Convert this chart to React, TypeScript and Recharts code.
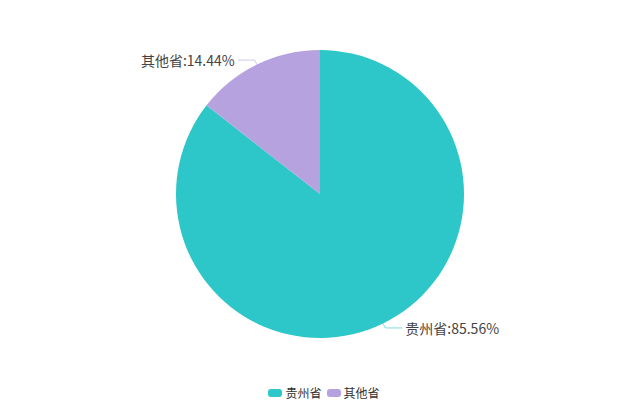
import React from "react";
import { PieChart, Pie, Cell, Legend } from "recharts";

const names = ["贵州省", "其他省"];
const values = [85.56, 14.44];
const colors = ["#2ec7c9", "#b6a2de"];

const data = names.map((name, i) => ({ name, value: values[i] }));

const RAD = Math.PI / 180;

const renderLabel = (props: any) => {
  const { cx, cy, midAngle, outerRadius, index } = props;
  const cos = Math.cos(-midAngle * RAD);
  const sin = Math.sin(-midAngle * RAD);
  const sx = cx + outerRadius * cos;
  const sy = cy + outerRadius * sin;
  const mx = cx + (outerRadius + 5) * cos;
  const my = cy + (outerRadius + 5) * sin;
  const dir = cos >= 0 ? 1 : -1;
  const ex = mx + dir * 17;
  const ey = my;
  const d = data[index];
  return (
    <g>
      <path
        d={`M${sx},${sy} L${mx},${my} L${ex},${ey}`}
        stroke={colors[index]}
        strokeOpacity={0.6}
        fill="none"
        strokeWidth={1}
      />
      <text
        x={ex + dir * 3}
        y={ey}
        textAnchor={dir > 0 ? "start" : "end"}
        dominantBaseline="central"
        fill="#444"
        fontSize={14}
        fontFamily="'Noto Sans CJK SC', 'Noto Sans', sans-serif"
      >
        {`${d.name}:${d.value.toFixed(2)}%`}
      </text>
    </g>
  );
};

const renderLegend = () => (
  <div
    style={{
      display: "flex",
      justifyContent: "center",
      alignItems: "center",
      fontFamily: "'Noto Sans CJK SC', 'Noto Sans', sans-serif",
      fontSize: 12,
      color: "#333",
      paddingLeft: 8,
    }}
  >
    {data.map((d, i) => (
      <div key={d.name} style={{ display: "flex", alignItems: "center", marginRight: i === 0 ? 5 : 0 }}>
        <span
          style={{
            display: "inline-block",
            width: 14,
            height: 8,
            borderRadius: 3,
            background: colors[i],
            marginRight: 3,
          }}
        />
        <span>{d.name}</span>
      </div>
    ))}
  </div>
);

export default function App() {
  return (
    <div style={{ position: "absolute", left: 0, top: 0, width: 640, height: 408, background: "#fff" }}>
      <PieChart width={640} height={408} margin={{ top: 0, right: 0, bottom: 0, left: 0 }}>
        <Pie
          data={data}
          dataKey="value"
          nameKey="name"
          cx={320}
          cy={194}
          outerRadius={144}
          startAngle={90}
          endAngle={-270}
          stroke="none"
          label={renderLabel}
          labelLine={false}
          isAnimationActive={false}
        >
          {data.map((d, i) => (
            <Cell key={d.name} fill={colors[i]} />
          ))}
        </Pie>
        <Legend
          verticalAlign="bottom"
          content={renderLegend}
          wrapperStyle={{ bottom: 7, left: 0, width: 640 }}
        />
      </PieChart>
    </div>
  );
}
